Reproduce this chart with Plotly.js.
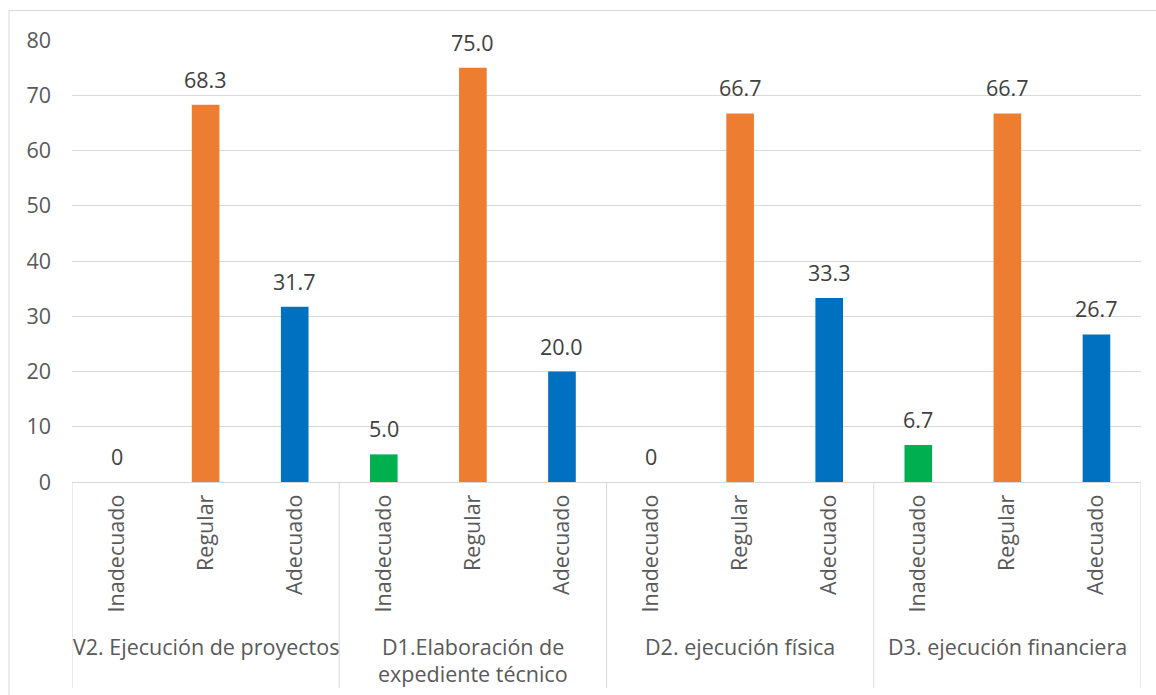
<!DOCTYPE html>
<html>
<head>
<meta charset="utf-8">
<script src="https://cdn.plot.ly/plotly-3.0.1.min.js"></script>
<style>body{margin:0;background:#fff}#chart{width:1156px;height:695px}</style>
</head>
<body>
<div id="chart"></div>
<script>
const levels = ["Inadecuado", "Regular", "Adecuado"];
const groups = [
  ["V2. Ejecución de proyectos"],
  ["D1.Elaboración de", "expediente técnico"],
  ["D2. ejecución física"],
  ["D3. ejecución financiera"]
];
const values = [0, 68.3, 31.7, 5.0, 75.0, 20.0, 0, 66.7, 33.3, 6.7, 66.7, 26.7];
const levelColors = ["#00B050", "#ED7D31", "#0070C0"];
const yTicks = [0, 10, 20, 30, 40, 50, 60, 70, 80];

const FONT = "Open Sans, sans-serif";
const TXT = "#595959";
const FS = 21.5;

const xs = values.map((v, i) => i);
const cats = values.map((v, i) => levels[i % 3]);
const cols = values.map((v, i) => levelColors[i % 3]);

const trace = {
  type: "bar",
  x: xs,
  y: values,
  width: 0.31,
  marker: {color: cols},
  hoverinfo: "x+y"
};

const annotations = [];
values.forEach((v, i) => {
  annotations.push({
    x: i, y: v, xref: "x", yref: "y",
    text: v === 0 ? "0" : v.toFixed(1),
    showarrow: false, yanchor: "bottom", yshift: 9,
    font: {family: FONT, size: FS, color: "#404040"}
  });
});
groups.forEach((lines, g) => {
  lines.forEach((t, k) => {
    annotations.push({
      x: g * 3 + 1, y: 0, xref: "x", yref: "paper",
      text: t, showarrow: false, yanchor: "middle",
      yshift: -164 - k * 27,
      font: {family: FONT, size: FS, color: TXT}
    });
  });
});

const shapes = [];
for (let g = 0; g <= groups.length; g++) {
  shapes.push({
    type: "line", xref: "x", yref: "paper",
    x0: g * 3 - 0.5, x1: g * 3 - 0.5, y0: 0, y1: -0.466,
    line: {color: "#d9d9d9", width: 1}
  });
}
// outer chart border
shapes.push({
  type: "rect", xref: "paper", yref: "paper",
  x0: -0.0589, x1: 1.02, y0: -0.6, y1: 1.0666,
  line: {color: "#d9d9d9", width: 1}, layer: "below"
});

const layout = {
  width: 1156, height: 695,
  margin: {l: 72, r: 15, t: 40, b: 213},
  paper_bgcolor: "#fff", plot_bgcolor: "#fff",
  showlegend: false,
  font: {family: FONT, color: TXT, size: FS},
  xaxis: {
    range: [-0.5, 11.5],
    tickmode: "array", tickvals: xs, ticktext: cats,
    tickangle: -90, ticks: "", ticklabelstandoff: 3,
    showgrid: false, zeroline: false,
    showline: true, linecolor: "#d9d9d9", linewidth: 1,
    tickfont: {family: FONT, size: FS, color: TXT},
    fixedrange: true
  },
  yaxis: {
    range: [0, 80],
    tickmode: "array", tickvals: yTicks,
    showgrid: true, gridcolor: "#d9d9d9", gridwidth: 1,
    zeroline: false, showline: false, ticks: "",
    ticklabelstandoff: 20,
    tickfont: {family: FONT, size: FS, color: TXT},
    fixedrange: true
  },
  annotations: annotations,
  shapes: shapes
};

Plotly.newPlot("chart", [trace], layout, {displayModeBar: false, staticPlot: true});
</script>
</body>
</html>
